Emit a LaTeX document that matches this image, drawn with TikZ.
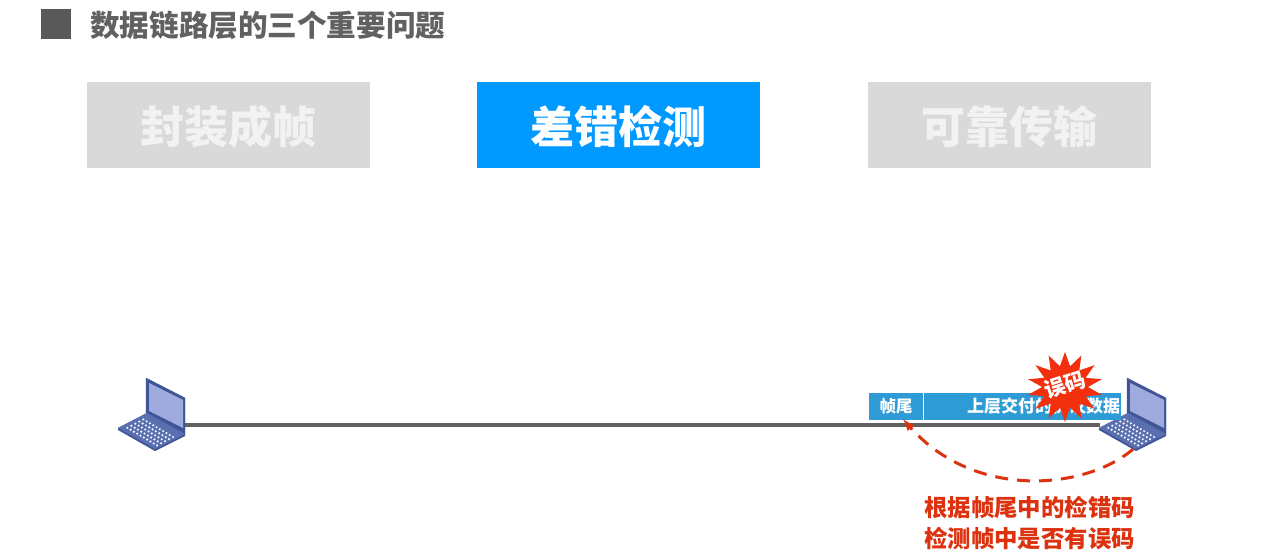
\documentclass[tikz,border=0pt]{standalone}
\usepackage{fontspec}
\setmainfont{Noto Sans CJK SC}
\usepackage{xcolor}
\usepackage{tikz}
\usetikzlibrary{positioning,arrows,shapes}
\definecolor{tabblue}{HTML}{0099FF}
\definecolor{tabgray}{HTML}{D9D9D9}
\definecolor{framblue}{HTML}{2E9BD6}
\definecolor{errred}{HTML}{DC3210}
\definecolor{burstred}{HTML}{F2300E}
\definecolor{hostdark}{HTML}{3F5596}
\definecolor{hostmid}{HTML}{5A6FB0}
\definecolor{hostscreen}{HTML}{9FAADF}
\tikzset{
  tabbox/.style={minimum width=283, minimum height=86, inner sep=0, fill=tabgray, text=white!95!black, text height=39, text depth=2, font=\fontsize{44}{48}\selectfont\bfseries},
  framebox/.style={minimum height=27, inner sep=0, fill=framblue, text=white, font=\fontsize{16.5}{18}\selectfont\bfseries},
  hostbox/.style={minimum width=66, minimum height=48, inner sep=0},
  link/.style={line width=4, draw=black!62},
  errpath/.style={line width=3, draw=errred, dash pattern=on 13 off 9, -latex},
  errtext/.style={text=errred, font=\fontsize{23.4}{30.5}\selectfont\bfseries, align=center, inner sep=0},
  laptop/.pic={
    % screen
    \draw[fill=hostdark, draw=hostdark, line join=round] (-6,-47) -- (33,-27) -- (33,9) -- (-6,-10) -- cycle;
    \fill[hostscreen] (-3,-42) -- (31,-25) -- (31,3) -- (-3,-14) -- cycle;
    % base
    \fill[hostdark] (-34,3) -- (-5,-12) -- (33,9) -- (33,11) -- (3,26) -- (-34,5) -- cycle;
    \fill[hostmid] (-34,3) -- (-5,-12) -- (33,9) -- (3,24) -- cycle;
    % keys
    \foreach \i in {1,...,10} {
      \foreach \j in {1,...,5} {
        \fill[white!90!hostscreen] ({-32+\i*3.3+\j*4},{3+\i*1.95-\j*2.1}) circle (1.2);
      }
    }
  }
}

\begin{document}
\begin{tikzpicture}[x=1pt, y=-1pt]
\useasboundingbox (0,0) rectangle (1267,553);

\fill[white] (0,0) rectangle (1267,553);
\node[minimum size=30, inner sep=0, fill=black!65] (bullet) at (56,24) {};
\node[anchor=west, inner sep=0, text=black!62, font=\fontsize{29.6}{32}\selectfont\bfseries] (title) at (90,25) {数据链路层的三个重要问题};

% three tabs
\node[tabbox] (tabframing) at (228.5,125) {封装成帧};
\node[tabbox, fill=tabblue, text=white] (tabdetect) at (618.5,125) {差错检测};
\node[tabbox] (tabreliable) at (1009,125) {可靠传输};

% hosts and link
\node[hostbox] (lefthost) at (152,425) {};
\node[hostbox] (righthost) at (1133,425) {};
\draw[link] (lefthost) -- (righthost);
\pic at (152,425) {laptop};
\pic at (1133,425) {laptop};

% frame on the link
\node[framebox, minimum width=54] (frametail) at (896,406.5) {帧尾};
\node[framebox, minimum width=197.5, font=\fontsize{17}{18}\selectfont\bfseries, right=0.5 of frametail, anchor=west] (framedata) {\hspace*{42pt}上层交付的协议数据};
\draw[white, line width=0.8] (frametail.north east) -- (frametail.south east);

% error mark
\node[star, star points=14, star point ratio=1.65, minimum size=70, inner sep=0, fill=burstred, xscale=1.08] (burst) at (1065,387) {};
\node[rotate=18, text=white, inner sep=0, font=\fontsize{21}{22}\selectfont\bfseries] (burstlabel) at (1065,385) {误码};

% detection path
\draw[errpath] (righthost.south) .. controls (1085,490) and (975,500) .. ([xshift=7,yshift=1]frametail.south);
\node[errtext] (note) at (1029.5,523) {根据帧尾中的检错码\\检测帧中是否有误码};
\end{tikzpicture}
\end{document}
